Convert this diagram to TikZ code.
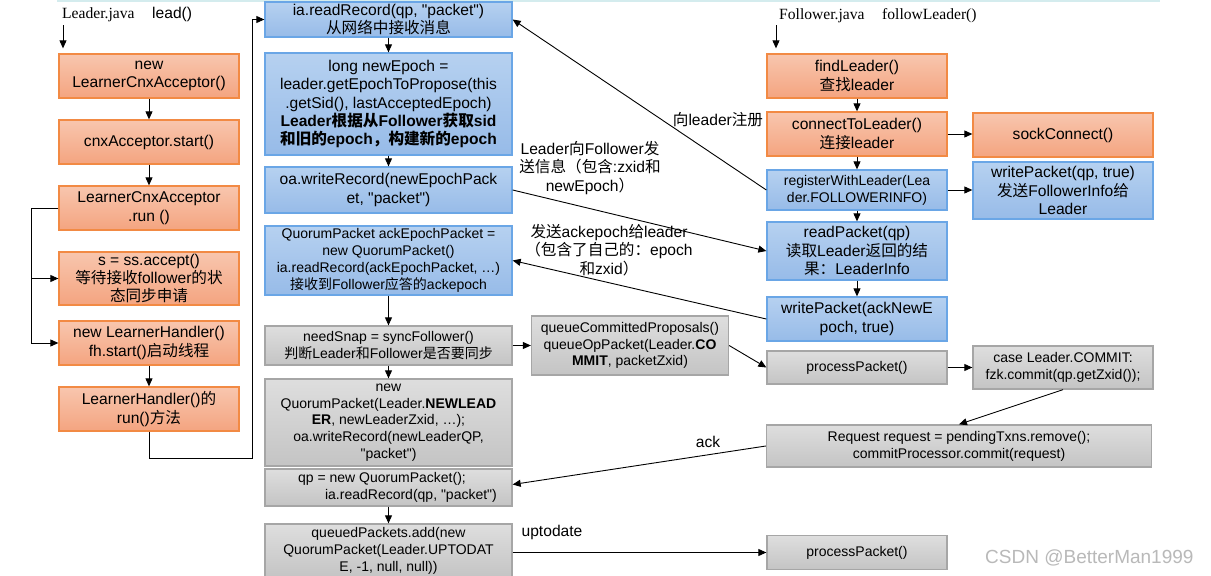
\documentclass[tikz,border=0pt]{standalone}
\usepackage{fontspec}
\setmainfont{Liberation Sans}[Ligatures=TeXOff]
\newfontfamily\zhf{Noto Sans CJK SC}
\newfontfamily\serifjv{Liberation Serif}
\usetikzlibrary{arrows.meta,calc}
\newcommand{\zh}[1]{{\zhf #1}}
\newcommand{\fA}{\fontsize{15.6}{18.4}\selectfont}
\newcommand{\fB}{\fontsize{14}{16.8}\selectfont}
\definecolor{obd}{HTML}{F28A44}
\definecolor{obt}{HTML}{F8C6AE}
\definecolor{obb}{HTML}{F4A480}
\definecolor{bbd}{HTML}{6AA6E6}
\definecolor{bbt}{HTML}{B6D1F0}
\definecolor{bbb}{HTML}{97BBE8}
\definecolor{gbd}{HTML}{A6A6A6}
\definecolor{gbt}{HTML}{DEDEDE}
\definecolor{gbb}{HTML}{C4C4C4}
\definecolor{topline}{HTML}{D4ECEE}
\tikzset{
  bx/.style={draw, line width=1.3pt, align=center, inner sep=0pt, font=\fA},
  ob/.style={bx, draw=obd, top color=obt, bottom color=obb},
  bb/.style={bx, draw=bbd, top color=bbt, bottom color=bbb},
  gb/.style={bx, draw=gbd, top color=gbt, bottom color=gbb, font=\fB},
  sz/.style 2 args={minimum width=#1, minimum height=#2},
  ar/.style={-{Triangle[length=8pt,width=7pt]}, line width=0.9pt},
  ln/.style={line width=0.9pt},
  lbl/.style={font=\fontsize{15.6}{18.6}\selectfont, align=center, inner sep=0pt},
}
\begin{document}
\begin{tikzpicture}[x=1pt,y=-1pt]
\useasboundingbox[fill=white] (0,0) rectangle (1211,576);
\draw[topline, line width=2pt] (57,1) -- (1160,1);

% headers
\node[anchor=base west, inner sep=0pt, font=\serifjv\fA] (h1) at (62,18) {Leader.java};
\node[anchor=base west, inner sep=0pt, font=\fA] (h2) at (152,18) {lead()};
\node[anchor=base west, inner sep=0pt, font=\serifjv\fA] (h3) at (779,19) {Follower.java};
\node[anchor=base west, inner sep=0pt, font=\serifjv\fA] (h4) at (882,19) {followLeader()};

% left column
\node[ob, sz={180}{44}] (L1) at (149,76) {new\\LearnerCnxAcceptor()};
\node[ob, sz={180}{44}] (L2) at (149,142) {cnxAcceptor.start()};
\node[ob, sz={180}{44}] (L3) at (149,208) {LearnerCnxAcceptor\\.run ()};
\node[ob, sz={180}{53}] (L4) at (149,278.5) {s = ss.accept()\\\zh{等待接收}follower\zh{的状}\\\zh{态同步申请}};
\node[ob, sz={180}{44}] (L5) at (149,343) {new LearnerHandler()\\fh.start()\zh{启动线程}};
\node[ob, sz={180}{44}] (L6) at (149,409) {LearnerHandler()\zh{的}\\run()\zh{方法}};

% middle column
\node[bb, sz={247}{35}] (M1) at (388.5,19.5) {ia.readRecord(qp, "packet")\\\zh{从网络中接收消息}};
\node[bb, sz={247}{102}] (M2) at (388.5,104) {long newEpoch =\\leader.getEpochToPropose(this\\.getSid(), lastAcceptedEpoch)\\\textbf{Leader\zh{根据从}Follower\zh{获取}sid}\\\textbf{\zh{和旧的}epoch\zh{，构建新的}epoch}};
\node[bb, sz={247}{46}] (M3) at (388.5,190) {oa.writeRecord(newEpochPack\\et, "packet")};
\node[bb, font=\fB, sz={247}{69}] (M4) at (388.5,260.5) {QuorumPacket ackEpochPacket =\\new QuorumPacket()\\ia.readRecord(ackEpochPacket, …)\\\zh{接收到}Follower\zh{应答的}ackepoch};
\node[gb, sz={247}{39}] (M5) at (388.5,345.5) {needSnap = syncFollower()\\\zh{判断}Leader\zh{和}Follower\zh{是否要同步}};
\node[gb, sz={247}{87}] (M6) at (388.5,422.5) {new\\QuorumPacket(Leader.\textbf{NEWLEAD}\\\textbf{ER}, newLeaderZxid, …);\\oa.writeRecord(newLeaderQP,\\"packet")};
\node[gb, sz={247}{37}] (M7) at (388.5,487.5) {\hspace*{-13pt}qp = new QuorumPacket();\\\hspace*{45pt}ia.readRecord(qp, "packet")};
\node[gb, sz={247}{54}] (M8) at (388.5,551) {queuedPackets.add(new\\QuorumPacket(Leader.UPTODAT\\E, -1, null, null))};
\node[gb, sz={197}{59}] (Q) at (630,345.5) {queueCommittedProposals()\\queueOpPacket(Leader.\textbf{CO}\\\textbf{MMIT}, packetZxid)};

% follower column
\node[ob, sz={180}{44}] (F1) at (857,76) {findLeader()\\\zh{查找}leader};
\node[ob, sz={180}{44}] (F2) at (857,134) {connectToLeader()\\\zh{连接}leader};
\node[bb, font=\fB, sz={180}{40}] (F3) at (857,190) {registerWithLeader(Lea\\der.FOLLOWERINFO)};
\node[bb, sz={180}{58}] (F4) at (857,251) {readPacket(qp)\\\zh{读取}Leader\zh{返回的结}\\\zh{果：}LeaderInfo};
\node[bb, sz={180}{44}] (F5) at (857,319) {writePacket(ackNewE\\poch, true)};
\node[gb, sz={180}{33}] (F6) at (857,367.5) {processPacket()};
\node[gb, sz={385}{42}] (F7) at (959,446) {Request request = pendingTxns.remove();\\commitProcessor.commit(request)};
\node[gb, sz={180}{34}] (F8) at (857,552.5) {processPacket()};

% right column
\node[ob, sz={180}{44}] (R1) at (1063,135) {sockConnect()};
\node[bb, sz={180}{57}] (R2) at (1063,190.5) {writePacket(qp, true)\\\zh{发送}FollowerInfo\zh{给}\\Leader};
\node[gb, sz={180}{43}] (R3) at (1063,367.5) {case Leader.COMMIT:\\fzk.commit(qp.getZxid());};

% header arrows
\coordinate (s1) at (63,25);
\coordinate (s2) at (776,25);
\draw[ar, shorten >=5pt] (s1) -- (s1 |- L1.north);
\draw[ar, shorten >=5pt] (s2) -- (s2 |- F1.north);

% left column connectors
\draw[ar] (L1.south) -- (L2.north);
\draw[ar] (L2.south) -- (L3.north);
\coordinate (fb) at ($(L3.west)+(-27,0)$);
\draw[ln] (L3.west) -- (fb);
\draw[ar] (fb) |- (L4.west);
\draw[ar] (fb) |- (L5.west);
\draw[ar] (L5.south) -- (L6.north);
\coordinate (lb) at (252,458);
\draw[ar] (L6.south) |- (lb) |- (M1.west);

% middle column connectors
\draw[ar] (M1.south) -- (M2.north);
\draw[ar] (M2.south) -- (M3.north);
\draw[ar] (M4.south) -- (M5.north);
\draw[ar] (M5.south) -- (M6.north);
\draw[ar] (M7.south) -- (M8.north);

% follower column connectors
\draw[ar] (F1.south) -- (F2.north);
\draw[ar] (F2.south) -- (F3.north);
\draw[ar] (F3.south) -- (F4.north);
\draw[ar] (F4.south) -- (F5.north);
\draw[ar] (F2.east) -- (F2.east -| R1.west);
\draw[ar] (F3.east) -- (F3.east -| R2.west);

% cross connectors
\draw[ar] (F3.west) -- (M1.east);
\draw[ar] (M3.east) -- (F4.west);
\draw[ar] (F5.west) -- (M4.east);
\draw[ar] (M5.east) -- (Q.west);
\draw[ar] (Q.east) -- (F6.west);
\draw[ar] (F6.east) -- (R3.west);
\draw[ar] (R3.south) -- (F7.north);
\draw[ar] (F7.west) -- ([yshift=3pt]M7.east);
\draw[ar] (M8.east |- F8.west) -- (F8.west);

% labels
\node[lbl] (t1) at (718,120) {\zh{向}leader\zh{注册}};
\node[lbl] (t2) at (590,168) {Leader\zh{向}Follower\zh{发}\\\zh{送信息（包含}:zxid\zh{和}\\newEpoch\zh{）}};
\node[lbl] (t3) at (609,250) {\zh{发送}ackepoch\zh{给}leader\\\zh{（包含了自己的：}epoch\\\zh{和}zxid\zh{）}};
\node[lbl] (t4) at (708,442) {ack};
\node[lbl] (t5) at (552,532) {uptodate};

% watermark
\node[anchor=base west, inner sep=0pt, font=\fontsize{19}{22}\selectfont, text=gray!55] (wm) at (985,563) {CSDN @BetterMan1999};
\end{tikzpicture}
\end{document}
